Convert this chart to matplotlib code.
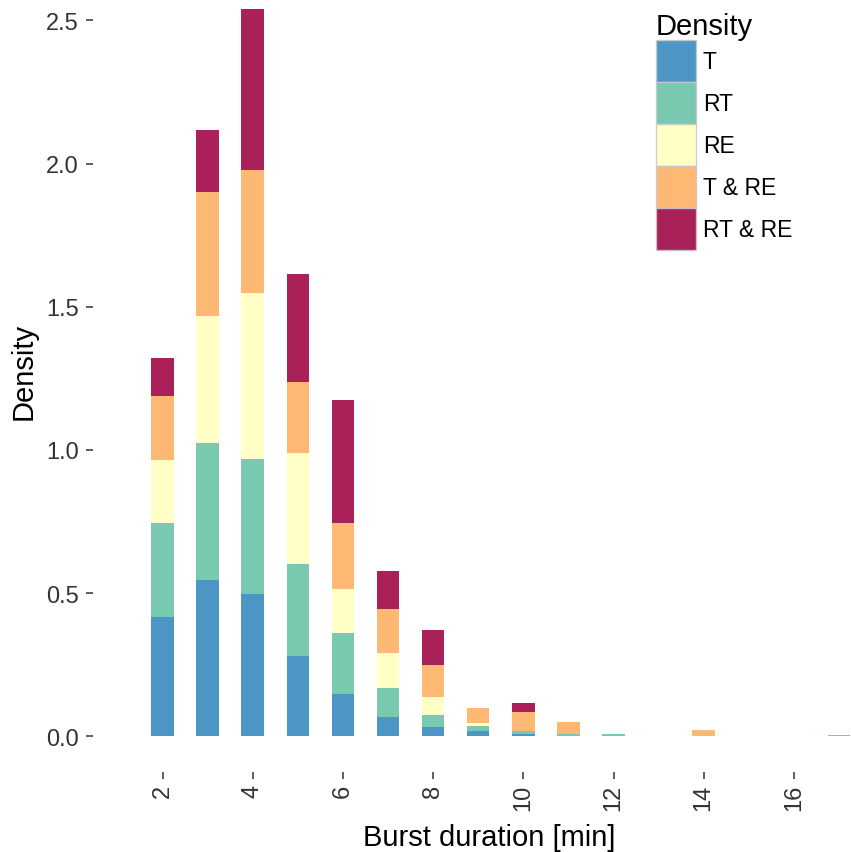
import matplotlib
matplotlib.use("Agg")
import matplotlib.pyplot as plt
from matplotlib.patches import Patch
import numpy as np

plt.rcParams['font.family'] = ['Liberation Sans', 'DejaVu Sans']

# ---- data ----
durations = [2, 3, 4, 5, 6, 7, 8, 9, 10, 11, 12, 14, 17]
series_names = ["T", "RT", "RE", "T & RE", "RT & RE"]
T = [0.416, 0.546, 0.496, 0.279, 0.149, 0.067, 0.031, 0.019, 0.007, 0.0, 0.0, 0.0, 0.0]
RT = [0.328, 0.477, 0.471, 0.321, 0.211, 0.101, 0.043, 0.017, 0.012, 0.007, 0.007, 0.0, 0.004]
RE = [0.222, 0.443, 0.581, 0.390, 0.153, 0.123, 0.062, 0.012, 0.0, 0.0, 0.0, 0.0, 0.0]
T_RE = [0.222, 0.434, 0.428, 0.247, 0.231, 0.155, 0.112, 0.050, 0.067, 0.042, 0.0, 0.023, 0.0]
RT_RE = [0.132, 0.217, 0.562, 0.378, 0.431, 0.130, 0.123, 0.0, 0.032, 0.0, 0.0, 0.0, 0.0]
x_ticks = [2, 4, 6, 8, 10, 12, 14, 16]
y_ticks = [0.0, 0.5, 1.0, 1.5, 2.0, 2.5]

colors = ["#3288BD", "#66C2A5", "#FFFFBF", "#FDAE61", "#9E0142"]
alpha = 0.88

W, H = 851, 853
fig = plt.figure(figsize=(W / 100, H / 100), dpi=100)
left_px, right_px, bottom_px, top_px = 92.5, 851, 773, 0
ax = fig.add_axes([left_px / W, 1 - bottom_px / H, (right_px - left_px) / W, (bottom_px - top_px) / H])

# data mapping
px_per_x = 45.1
x2_px = 162.5
ax.set_xlim(2 - (x2_px - left_px) / px_per_x, 2 + (right_px - x2_px) / px_per_x)
px_per_y = 286.4
y0_px = 737.3
ax.set_ylim(-(bottom_px - y0_px) / px_per_y, (y0_px - top_px) / px_per_y)

bottom = np.zeros(len(durations))
for name, vals, c in zip(series_names, [T, RT, RE, T_RE, RT_RE], colors):
    vals = np.array(vals)
    ax.bar(durations, vals, width=0.5, bottom=bottom, color=c, alpha=alpha,
           linewidth=0, label=name)
    bottom += vals

for s in ax.spines.values():
    s.set_visible(False)

ax.set_xticks(x_ticks)
ax.set_xticklabels([str(v) for v in x_ticks], rotation=90)
ax.set_yticks(y_ticks)
ax.set_yticklabels([f"{v:.1f}" for v in y_ticks])
ax.tick_params(axis='both', length=5, width=1.1, color='#333333', labelcolor='#333333', labelsize=17)
ax.tick_params(axis='x', pad=3.5)
ax.tick_params(axis='y', pad=5)

ax.set_xlabel("Burst duration [min]", fontsize=21, color='black')
ax.set_ylabel("Density", fontsize=21, color='black')
ax.xaxis.set_label_coords((489.5 - left_px) / (right_px - left_px), (bottom_px - 824) / (bottom_px - top_px))
ax.yaxis.set_label_coords((38 - left_px) / (right_px - left_px), (bottom_px - 371) / (bottom_px - top_px))

handles = [Patch(facecolor=c, alpha=alpha, edgecolor='#c8c8c8', linewidth=1.0) for c in colors]
fs = 16.5
fs_px = fs * 100 / 72
hh = (42 / fs_px - 0.245) / 0.65
leg = fig.legend(handles, series_names, title="Density", loc='upper left',
                 bbox_to_anchor=(656 / W, 1 - 13 / H), frameon=False,
                 fontsize=fs, title_fontsize=21, borderpad=0, borderaxespad=0,
                 labelspacing=0.0, handlelength=40 / fs_px, handleheight=hh,
                 handletextpad=0.3, alignment='left')
for t in leg.get_texts():
    t.set_color('black')

fig.savefig("out.png", dpi=100)
